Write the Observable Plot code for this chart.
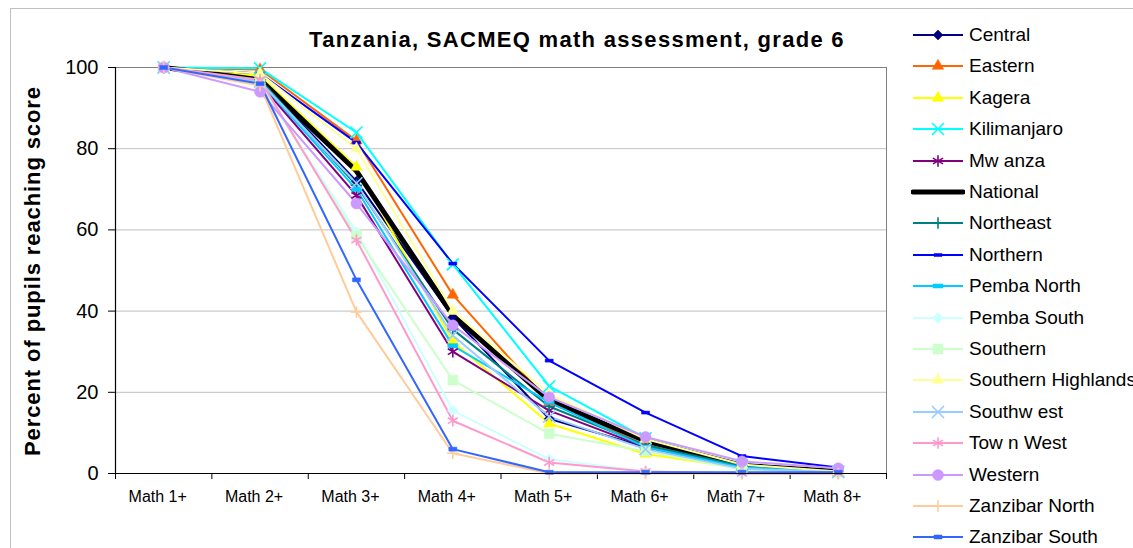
<!DOCTYPE html>
<html><head><meta charset="utf-8">
<script src="https://cdn.jsdelivr.net/npm/d3@7"></script>
<script src="https://cdn.jsdelivr.net/npm/@observablehq/plot@0.6"></script>
<style>
body{margin:0;background:#fff;font-family:"Liberation Sans",Arial,sans-serif;}
#wrap{position:relative;width:1133px;height:548px;overflow:hidden;background:#fff;}
#border{position:absolute;left:10px;top:8px;width:1150px;height:580px;border:1px solid #c0c0c0;box-sizing:border-box;}
#chart{position:absolute;left:0;top:0;}
#title{position:absolute;left:277px;width:600px;top:28px;line-height:24px;text-align:center;font-weight:bold;font-size:22px;letter-spacing:1.3px;color:#000;white-space:nowrap;}
#ylabel{position:absolute;left:-217px;width:500px;top:259px;height:24px;line-height:24px;text-align:center;font-weight:bold;font-size:22px;letter-spacing:0.9px;transform:rotate(-90deg);white-space:nowrap;}
.leg{position:absolute;left:911px;height:26px;display:flex;align-items:center;white-space:nowrap;font-size:19px;color:#000;}
.leg svg{display:block;margin-right:4px;}
</style>
</head><body>
<div id="wrap">
  <div id="border"></div>
  <div id="chart"></div>
  <div id="title">Tanzania, SACMEQ math assessment, grade 6</div>
  <div id="ylabel">Percent of pupils reaching score</div>
  <div id="legend"></div>
</div>
<script>
// ---- data ----
const categories = ["Math 1+","Math 2+","Math 3+","Math 4+","Math 5+","Math 6+","Math 7+","Math 8+"];
const yTicks = [0,20,40,60,80,100];
const seriesNames = ["Central","Eastern","Kagera","Kilimanjaro","Mw anza","National","Northeast","Northern","Pemba North","Pemba South","Southern","Southern Highlands","Southw est","Tow n West","Western","Zanzibar North","Zanzibar South"];
const central           = [100, 97,   72,   38.5, 13.5, 6.5, 1.5, 0.5];
const eastern           = [100, 99.5, 82,   44,   17.5, 7,   1.5, 0.3];
const kagera            = [100, 98,   75.5, 32.5, 12.3, 4.8, 1.3, 0.3];
const kilimanjaro       = [100, 99.8, 84,   51.5, 21.5, 8.7, 2,   0.5];
const mwanza            = [100, 96,   68.5, 30,   15.5, 6.5, 1.5, 0.5];
const national          = [100, 97,   74.5, 39,   18,   8,   2,   0.5];
const northeast         = [100, 97,   71,   35.5, 16.5, 7,   1.8, 0.5];
const northern          = [100, 98.5, 81.5, 51.7, 27.8, 15,  4.3, 1.5];
const pembaNorth        = [100, 96.5, 70,   31.5, 17.5, 6.5, 1.5, 0.3];
const pembaSouth        = [100, 96,   59.5, 15.5, 3.5,  0.5, 0,   0];
const southern          = [100, 96,   58.5, 23,   9.8,  5.5, 1,   0.3];
const southernHighlands = [100, 98.5, 80,   40,   19.5, 8.5, 2.2, 0.5];
const southwest         = [100, 96.5, 71.5, 34,   14,   6,   1.2, 0.3];
const townWest          = [100, 97,   57.5, 13,   2.7,  0.5, 0,   0];
const western           = [100, 94,   66.5, 36.5, 18.8, 9,   3,   1.3];
const zanzibarNorth     = [100, 95.5, 39.8, 5,    0,    0,   0,   0];
const zanzibarSouth     = [100, 96,   47.7, 6,    0.3,  0.3, 0.3, 0.3];
const seriesValues = [central,eastern,kagera,kilimanjaro,mwanza,national,northeast,northern,pembaNorth,pembaSouth,southern,southernHighlands,southwest,townWest,western,zanzibarNorth,zanzibarSouth];

// ---- styles ----
const dash = (w,h) => ({draw(ctx){ctx.rect(-w/2,-h/2,w,h);}});
const styles = [
  {color:"#000080", sym:"diamond2",  r:4.5, fill:true},
  {color:"#FF6600", sym:"triangle2", r:5.5, fill:true},
  {color:"#FFFF00", sym:"triangle2", r:5.5, fill:true},
  {color:"#00FFFF", sym:"times",     r:5.5, fill:false},
  {color:"#800080", sym:"asterisk",  r:5.5, fill:false},
  {color:"#000000", sym:null,        r:0,   fill:false, width:5},
  {color:"#008080", sym:"plus",      r:3.8, fill:false},
  {color:"#0000FF", sym:dash(8,3),   r:4,   fill:true},
  {color:"#00CCFF", sym:dash(10,4),  r:4,   fill:true},
  {color:"#CCFFFF", sym:"diamond2",  r:5,   fill:true},
  {color:"#CCFFCC", sym:"square2",   r:6.3, fill:true},
  {color:"#FFFF99", sym:"triangle2", r:5.5, fill:true},
  {color:"#99CCFF", sym:"times",     r:5.5, fill:false},
  {color:"#FF99CC", sym:"asterisk",  r:5.5, fill:false},
  {color:"#CC99FF", sym:"circle",    r:5.5, fill:true},
  {color:"#FFCC99", sym:"plus",      r:3.8, fill:false},
  {color:"#3366FF", sym:dash(8,4),   r:4,   fill:true}
];

const rows = seriesNames.map((name, s) => seriesValues[s].map((v, i) => ({series:name, xi:i+1, value:v})));

const lineMarks = rows.map((d, s) => Plot.line(d, {x:"xi", y:"value", stroke:styles[s].color, strokeWidth:styles[s].width || 2, strokeLinejoin:"round"}));
const dotMarks = rows.map((d, s) => {
  const st = styles[s];
  if (!st.sym) return null;
  return Plot.dot(d, {x:"xi", y:"value", symbol:st.sym, r:st.r,
    fill: st.fill ? st.color : "none", stroke: st.color, strokeWidth: st.fill ? 0.5 : 1.6});
}).filter(Boolean);

const chart = Plot.plot({
  width:1133, height:548,
  marginLeft:115, marginRight:247, marginTop:67, marginBottom:75,
  style:{fontFamily:'"Liberation Sans", Arial, sans-serif', background:"transparent", color:"#000"},
  x:{type:"linear", domain:[0.5, categories.length + 0.5]},
  y:{domain:[0,100]},
  marks:[
    Plot.ruleY([20,40,60,80], {stroke:"#c0c0c0", strokeWidth:1}),
    Plot.frame({stroke:"#808080"}),
    Plot.axisY({ticks:yTicks, tickSize:7, tickPadding:10, fontSize:20, label:null}),
    Plot.axisX({ticks:d3.range(0, categories.length + 1).map(i => i + 0.5), tickSize:6, tickFormat:() => "", label:null}),
    Plot.axisX({ticks:categories.map((_, i) => i + 1), tickSize:0, tickPadding:17, fontSize:16, dx:-6, tickFormat:i => categories[i - 1], label:null}),
    ...lineMarks,
    ...dotMarks,
    Plot.ruleX([0.5], {stroke:"#000", strokeWidth:1.2}),
    Plot.ruleY([0], {stroke:"#000", strokeWidth:1.2})
  ]
});
document.getElementById("chart").appendChild(chart);

// ---- legend ----
const symMap = {diamond2:d3.symbolDiamond2, triangle2:d3.symbolTriangle2, times:d3.symbolTimes, asterisk:d3.symbolAsterisk, plus:d3.symbolPlus, square2:d3.symbolSquare2, circle:d3.symbolCircle};
const legend = document.getElementById("legend");
seriesNames.forEach((name, s) => {
  const st = styles[s];
  const cy = 35 + s * 31.4;
  const div = document.createElement("div");
  div.className = "leg";
  div.style.top = (cy - 13) + "px";
  const svg = d3.create("svg").attr("width", 54).attr("height", 26);
  svg.append("line").attr("x1", 2).attr("x2", 52).attr("y1", 13).attr("y2", 13)
    .attr("stroke", st.color).attr("stroke-width", st.width || 2).attr("stroke-linecap", st.width ? "round" : "butt");
  if (st.sym) {
    const type = typeof st.sym === "string" ? symMap[st.sym] : st.sym;
    svg.append("path").attr("transform", "translate(27,13)")
      .attr("d", d3.symbol(type, Math.PI * st.r * st.r)())
      .attr("fill", st.fill ? st.color : "none").attr("stroke", st.color)
      .attr("stroke-width", st.fill ? 0.5 : 1.6);
  }
  div.appendChild(svg.node());
  const span = document.createElement("span");
  span.textContent = name;
  div.appendChild(span);
  legend.appendChild(div);
});
</script>
</body></html>
